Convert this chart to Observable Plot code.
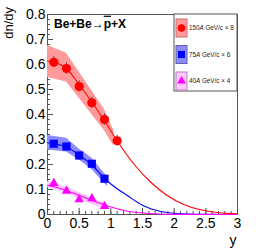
<!DOCTYPE html>
<html><head><meta charset="utf-8">
<script src="https://cdn.jsdelivr.net/npm/d3@7"></script>
<script src="https://cdn.jsdelivr.net/npm/@observablehq/plot@0.6"></script>
<style>body{margin:0;background:#fff;} #chart{width:269px;height:252px;}</style>
</head><body><div id="chart"></div>
<script>
// ---- data ----
const ptX = [0.1, 0.3, 0.5, 0.7, 0.9];
const redPtX = [0.1, 0.3, 0.5, 0.7, 0.9, 1.1];
const redPtY = [0.609, 0.584, 0.512, 0.447, 0.38, 0.295];
const redPtErr = [0.022, 0.022, 0.022, 0.022, 0.022, 0.022];
const bluePtY = [0.283, 0.272, 0.236, 0.203, 0.143];
const bluePtErr = [0.012, 0.012, 0.012, 0.012, 0.012];
const magPtY = [0.125, 0.094, 0.06, 0.064, 0.033];
const magPtErr = [0.01, 0.01, 0.01, 0.01, 0.01];

const redBandX = [0, 0.3, 0.5, 0.7, 0.9, 1.05];
const redBandLo = [0.548, 0.53, 0.465, 0.40, 0.335, 0.272];
const redBandHi = [0.676, 0.645, 0.57, 0.495, 0.42, 0.335];
const blueBandX = [0, 0.3, 0.5, 0.7, 0.9, 0.95];
const blueBandLo = [0.258, 0.25, 0.218, 0.18, 0.124, 0.112];
const blueBandHi = [0.316, 0.305, 0.262, 0.226, 0.164, 0.152];
const magBandX = [0, 0.3, 0.5, 0.7, 0.9, 0.95];
const magBandLo = [0.108, 0.085, 0.062, 0.04, 0.022, 0.018];
const magBandHi = [0.132, 0.11, 0.088, 0.066, 0.045, 0.04];

const redCurveX = [0, 0.1, 0.3, 0.5, 0.7, 0.9, 1.1, 1.36, 1.63, 1.89, 2.15, 2.42, 2.68, 3.0];
const redCurveY = [0.614, 0.609, 0.584, 0.52, 0.45, 0.375, 0.295, 0.203, 0.129, 0.076, 0.04, 0.019, 0.008, 0.003];
const blueCurveX = [0, 0.1, 0.3, 0.5, 0.7, 0.9, 1.0, 1.26, 1.5, 1.63, 1.89, 2.2, 2.6, 3.0];
const blueCurveY = [0.287, 0.283, 0.27, 0.238, 0.198, 0.145, 0.122, 0.076, 0.037, 0.023, 0.008, 0.002, 0.0005, 0];
const magCurveX = [0, 0.25, 0.5, 0.75, 1.0, 1.25, 1.5, 1.75, 2.0, 3.0];
const magCurveY = [0.117, 0.1, 0.077, 0.052, 0.03, 0.014, 0.006, 0.002, 0.0005, 0];

const seriesNames = ["150", "75", "40"];
const seriesFactors = ["8", "6", "4"];
const yTicks = [0, 0.1, 0.2, 0.3, 0.4, 0.5, 0.6, 0.7, 0.8];
const yTickLabels = ["0", "0.1", "0.2", "0.3", "0.4", "0.5", "0.6", "0.7", "0.8"];
const xTicks = [0, 0.5, 1, 1.5, 2, 2.5, 3];
const xTickLabels = ["0", "0.5", "1", "1.5", "2", "2.5", "3"];

// ---- build tables ----
const pts = (xs, ys, es) => xs.map((x, i) => ({x, y: ys[i], e: es[i]}));
const band = (xs, lo, hi) => xs.map((x, i) => ({x, lo: lo[i], hi: hi[i]}));
const curve = (xs, ys) => xs.map((x, i) => ({x, y: ys[i]}));
const redPts = pts(redPtX, redPtY, redPtErr);
const bluePts = pts(ptX, bluePtY, bluePtErr);
const magPts = pts(ptX, magPtY, magPtErr);

const yMinor = d3.range(0, 0.8001, 0.02);
const xMinor = d3.range(0, 3.0001, 0.1);

const W = 269, H = 252, ML = 47, MR = 32, MT = 14, MB = 38;
const innerW = W - ML - MR, innerH = H - MT - MB;
const axisColor = "#555";
const red = "#ff0000", blue = "#0000ff", mag = "#ff00ff";
const redBandC = "#ff9a9a", blueBandC = "#8c8cff", magBandC = "#ffc6ff";

const plot = Plot.plot({
  width: W, height: H,
  marginLeft: ML, marginRight: MR, marginTop: MT, marginBottom: MB,
  x: {domain: [0, 3]},
  y: {domain: [0, 0.8]},
  style: {fontFamily: "'Liberation Sans', Arial, sans-serif", background: "white", overflow: "visible"},
  marks: [
    Plot.frame({stroke: axisColor}),
    Plot.ruleY(yMinor, {insetRight: innerW - 3, stroke: axisColor}),
    Plot.ruleY(yTicks, {insetRight: innerW - 6, stroke: axisColor}),
    Plot.ruleX(xMinor, {insetTop: innerH - 3, stroke: axisColor}),
    Plot.ruleX(xTicks, {insetTop: innerH - 6, stroke: axisColor}),
    Plot.areaY(band(redBandX, redBandLo, redBandHi), {x: "x", y1: "lo", y2: "hi", fill: redBandC}),
    Plot.areaY(band(blueBandX, blueBandLo, blueBandHi), {x: "x", y1: "lo", y2: "hi", fill: blueBandC}),
    Plot.areaY(band(magBandX, magBandLo, magBandHi), {x: "x", y1: "lo", y2: "hi", fill: magBandC}),
    Plot.line(curve(redCurveX, redCurveY), {x: "x", y: "y", stroke: red, strokeWidth: 1.1, curve: "monotone-x"}),
    Plot.line(curve(blueCurveX, blueCurveY), {x: "x", y: "y", stroke: blue, strokeWidth: 1.1, curve: "monotone-x"}),
    Plot.line(curve(magCurveX, magCurveY), {x: "x", y: "y", stroke: mag, strokeWidth: 1.1, curve: "monotone-x"}),
    Plot.ruleX(redPts, {x: "x", y1: d => d.y - d.e, y2: d => d.y + d.e, stroke: "#444", strokeWidth: 1}),
    Plot.ruleX(bluePts, {x: "x", y1: d => d.y - d.e, y2: d => d.y + d.e, stroke: "#444", strokeWidth: 1}),
    Plot.ruleX(magPts, {x: "x", y1: d => d.y - d.e, y2: d => d.y + d.e, stroke: "#444", strokeWidth: 1}),
    Plot.dot(redPts, {x: "x", y: "y", r: 4.6, fill: red, symbol: "circle"}),
    Plot.dot(bluePts, {x: "x", y: "y", r: 4.6, fill: blue, symbol: "square"}),
    Plot.dot(magPts, {x: "x", y: "y", r: 3.5, fill: mag, symbol: "triangle"}),
    Plot.axisY({ticks: yTicks, tickSize: 0, tickPadding: 2, fontSize: 14, fill: "#000", label: null,
      tickFormat: d => yTickLabels[yTicks.indexOf(d)]}),
    Plot.axisX({ticks: xTicks, tickSize: 0, tickPadding: 4, fontSize: 14, fill: "#000", label: null,
      tickFormat: d => xTickLabels[xTicks.indexOf(d)]})
  ]
});
document.getElementById("chart").appendChild(plot);

// ---- texts and legend ----
const svg = d3.select(plot);
const font = "'Liberation Sans', Arial, sans-serif";
svg.append("text").attr("x", 233).attr("y", 245).attr("text-anchor", "middle")
  .attr("font-size", 14).attr("font-family", font).text("y");
svg.append("text").attr("transform", "translate(12.5,7) rotate(-90)").attr("text-anchor", "end")
  .attr("font-size", 13).attr("font-family", font).text("dn/dy");
const title = svg.append("text").attr("x", 54).attr("y", 27.7).attr("font-size", 12)
  .attr("text-anchor", "start").attr("font-weight", "bold").attr("font-family", font);
title.append("tspan").text("Be+Be\u2192");
title.append("tspan").style("text-decoration", "overline").text("p");
title.append("tspan").text("+X");

const lg = svg.append("g");
lg.append("rect").attr("x", 174).attr("y", MT).attr("width", W - MR - 174).attr("height", 77)
  .attr("fill", "white").attr("stroke", axisColor);
const entries = [
  {c: red, b: redBandC, bs: "#d07070", sym: d3.symbolCircle, size: 45},
  {c: blue, b: blueBandC, bs: "#6060b0", sym: d3.symbolSquare, size: 50},
  {c: mag, b: magBandC, bs: "#c080c0", sym: d3.symbolTriangle, size: 34}
];
entries.forEach((e, i) => {
  const cy = 28 + i * 26.5;
  lg.append("rect").attr("x", 176).attr("y", cy - 9).attr("width", 11).attr("height", 18)
    .attr("fill", e.b).attr("stroke", e.bs);
  lg.append("path").attr("d", d3.symbol(e.sym, e.size)()).attr("transform", `translate(181.5,${cy})`)
    .attr("fill", e.c);
  const t = lg.append("text").attr("x", 189).attr("y", cy + 2.3).attr("font-size", 6.3)
    .attr("text-anchor", "start").attr("font-family", font).attr("fill", "#222");
  t.append("tspan").text(seriesNames[i]);
  t.append("tspan").attr("font-style", "italic").text("A");
  t.append("tspan").text(" GeV/c \u00d7 " + seriesFactors[i]);
});
</script></body></html>
